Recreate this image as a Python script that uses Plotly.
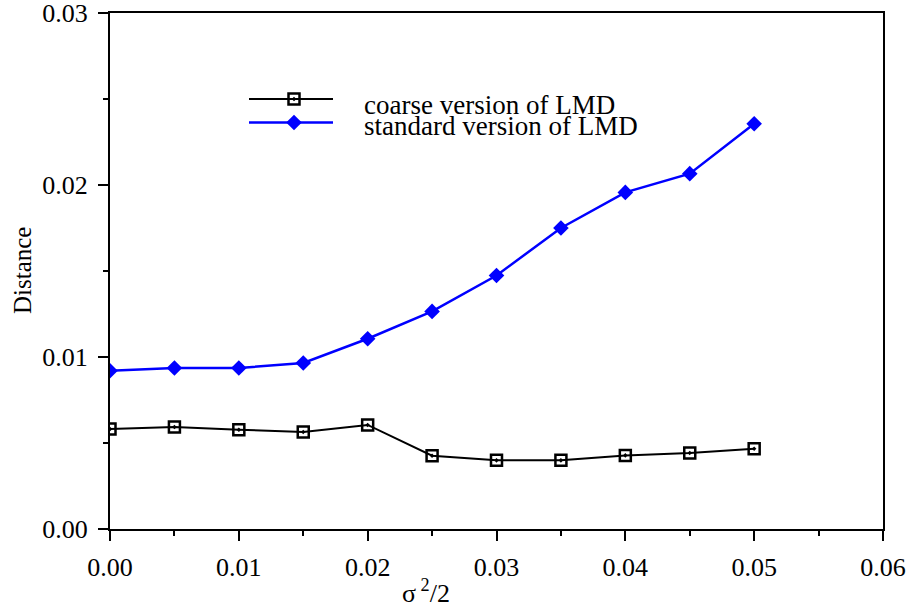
import plotly.graph_objects as go

x_vals = [0.000, 0.005, 0.010, 0.015, 0.020, 0.025, 0.030, 0.035, 0.040, 0.045, 0.050]
coarse = [0.00581, 0.00593, 0.00577, 0.00564, 0.00605, 0.00426, 0.00399, 0.00399, 0.00428, 0.00442, 0.00467]
standard = [0.00920, 0.00936, 0.00936, 0.00965, 0.01106, 0.01265, 0.01474, 0.01750, 0.01957, 0.02066, 0.02356]
series_names = ["coarse version of LMD", "standard version of LMD"]
x_ticks = [0.00, 0.01, 0.02, 0.03, 0.04, 0.05, 0.06]
y_ticks = [0.00, 0.01, 0.02, 0.03]

FONT = "Liberation Serif"
L, R, T, B = 110, 883, 13, 529

fig = go.Figure()
fig.add_trace(go.Scatter(x=x_vals, y=coarse, mode="lines+markers", name=series_names[0],
                         line=dict(color="black", width=2),
                         marker=dict(symbol="square-open-dot", size=11, color="black",
                                     line=dict(width=2.5, color="black")),
                         showlegend=False))
fig.add_trace(go.Scatter(x=x_vals, y=standard, mode="lines+markers", name=series_names[1],
                         line=dict(color="#0000ff", width=2.5),
                         marker=dict(symbol="diamond", size=12, color="#0000ff"),
                         showlegend=False))

# custom legend on an overlay axis in [0,1] (paper-like)
def px_x(p):
    return (p - L) / (R - L)

def px_y(p):
    return (B - p) / (B - T)

leg_y = [px_y(99), px_y(122.5)]
text_y = [px_y(105), px_y(126)]
fig.add_trace(go.Scatter(x=[px_x(249), px_x(333)], y=[leg_y[0]] * 2, xaxis="x2", yaxis="y2", mode="lines",
                         line=dict(color="black", width=2), showlegend=False, hoverinfo="skip"))
fig.add_trace(go.Scatter(x=[px_x(294)], y=[leg_y[0]], xaxis="x2", yaxis="y2", mode="markers",
                         marker=dict(symbol="square-open-dot", size=11, color="black",
                                     line=dict(width=2.5, color="black")),
                         showlegend=False, hoverinfo="skip"))
fig.add_trace(go.Scatter(x=[px_x(249), px_x(333)], y=[leg_y[1]] * 2, xaxis="x2", yaxis="y2", mode="lines",
                         line=dict(color="#0000ff", width=2.5), showlegend=False, hoverinfo="skip"))
fig.add_trace(go.Scatter(x=[px_x(294)], y=[leg_y[1]], xaxis="x2", yaxis="y2", mode="markers",
                         marker=dict(symbol="diamond", size=12, color="#0000ff"),
                         showlegend=False, hoverinfo="skip"))
for i, name in enumerate(series_names):
    fig.add_annotation(x=px_x(362), y=text_y[i], xref="paper", yref="paper", text=name,
                       showarrow=False, xanchor="left", yanchor="middle",
                       font=dict(family=FONT, size=27, color="black"))

# axis titles
fig.add_annotation(x=px_x(426), y=px_y(591), xref="paper", yref="paper", text="σ<sup> 2</sup>/2",
                   showarrow=False, xanchor="center", yanchor="middle",
                   font=dict(family=FONT, size=26, color="black"))
fig.add_annotation(x=px_x(22), y=0.5, xref="paper", yref="paper", text="Distance", textangle=-90,
                   showarrow=False, xanchor="center", yanchor="middle",
                   font=dict(family=FONT, size=25, color="black"))

axis_common = dict(showline=True, linecolor="black", linewidth=2, mirror=True, automargin=False,
                   showgrid=False, zeroline=False, ticks="outside", ticklen=10, tickwidth=2,
                   tickcolor="black", tickformat=".2f", ticklabeloverflow="allow",
                   tickfont=dict(family=FONT, size=26, color="black"))
fig.update_layout(
    width=910, height=610,
    margin=dict(l=L, r=910 - R, t=T, b=610 - B, autoexpand=False),
    paper_bgcolor="white", plot_bgcolor="white",
    xaxis=dict(range=[0, 0.06], tickvals=x_ticks, ticklabelstandoff=4,
               minor=dict(ticks="outside", ticklen=5, tickwidth=2, tickcolor="black", dtick=0.005, showgrid=False),
               **axis_common),
    yaxis=dict(range=[0, 0.03], tickvals=y_ticks, ticklabelstandoff=5,
               minor=dict(ticks="outside", ticklen=5, tickwidth=2, tickcolor="black", dtick=0.005, showgrid=False),
               **axis_common),
    xaxis2=dict(range=[0, 1], overlaying="x", visible=False, anchor="y2", automargin=False),
    yaxis2=dict(range=[0, 1], overlaying="y", visible=False, anchor="x2", automargin=False),
)

fig.write_html("out.html")
